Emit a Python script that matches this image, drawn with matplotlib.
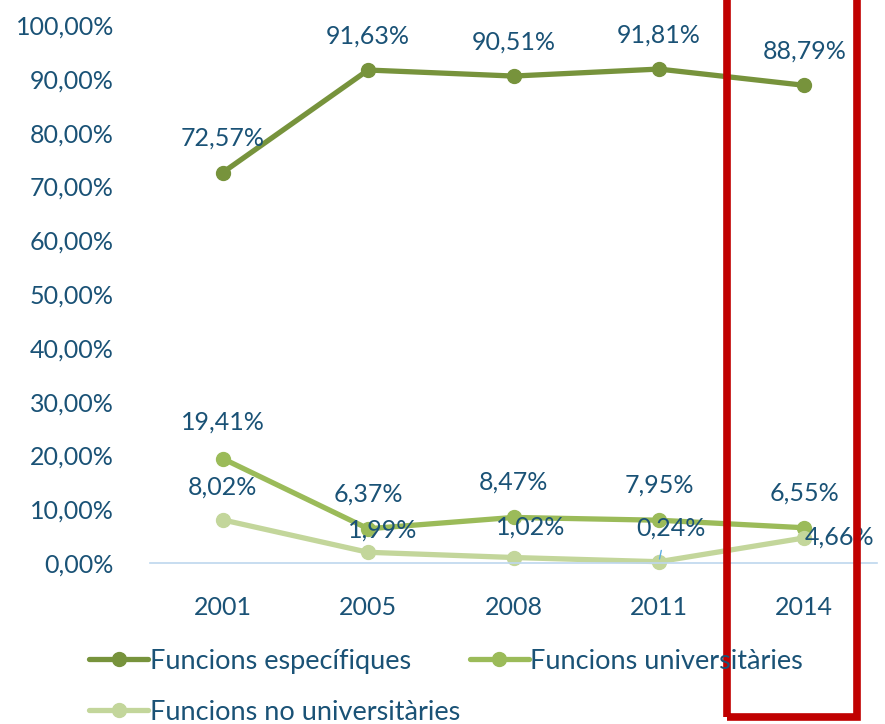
import matplotlib
matplotlib.use("Agg")
import matplotlib.pyplot as plt
from matplotlib.patches import Rectangle
from matplotlib.ticker import FuncFormatter

years = ["2001", "2005", "2008", "2011", "2014"]
especifiques = [72.57, 91.63, 90.51, 91.81, 88.79]
universitaries = [19.41, 6.37, 8.47, 7.95, 6.55]
no_universitaries = [8.02, 1.99, 1.02, 0.24, 4.66]
series_names = ["Funcions específiques", "Funcions universitàries", "Funcions no universitàries"]

TXT = "#1A5276"
COLORS = ["#77933C", "#9BBB59", "#C3D69B"]
FONT = "Lato"
FS = 18

def fmt(v):
    return f"{v:.2f}".replace(".", ",") + "%"

fig = plt.figure(figsize=(8.85, 7.24), dpi=100)
ax = fig.add_axes([150/885, (724-563)/724, (877-150)/885, (563-25)/724])

x = list(range(len(years)))
series = [especifiques, universitaries, no_universitaries]
for vals, c, name in zip(series, COLORS, series_names):
    ax.plot(x, vals, color=c, lw=3.8, marker="o", ms=10, label=name,
            solid_capstyle="round", clip_on=False)

# label offsets in pixels (dx, dy up)
offsets = [
    [(0, 34)] * 5,
    [(0, 36), (0, 35), (0, 35), (0, 35), (0, 35)],
    [(0, 33), (15, 22), (17, 30), (12, 34), (35, 1)],
]
k = 0.72
for vals, offs in zip(series, offsets):
    for xi, v, (dx, dy) in zip(x, vals, offs):
        ax.annotate(fmt(v), (xi, v), xytext=(dx*k, dy*k), textcoords="offset points",
                    ha="center", va="center", color=TXT, fontsize=FS, family=FONT)

# small leader line for 0,24%
ax.annotate("", (3, no_universitaries[3]), xytext=(3*k, 14*k), textcoords="offset points",
            arrowprops=dict(arrowstyle="-", color="#5DADE2", lw=1))

ax.set_xlim(-0.5, 4.5)
ax.set_ylim(0, 100)
ax.set_yticks(range(0, 101, 10))
ax.yaxis.set_major_formatter(FuncFormatter(lambda v, p: fmt(v)))
ax.set_xticks(x)
ax.set_xticklabels(years)
ax.tick_params(length=0, colors=TXT, labelsize=FS)
ax.tick_params(axis="y", pad=26)
ax.tick_params(axis="x", pad=24)
for lab in ax.get_xticklabels() + ax.get_yticklabels():
    lab.set_family(FONT)
for s in ["left", "right", "top"]:
    ax.spines[s].set_visible(False)
ax.spines["bottom"].set_color("#BDD7EE")
ax.spines["bottom"].set_linewidth(1.2)

handles, labels = ax.get_legend_handles_labels()
order = [0, 2, 1]
leg = fig.legend([handles[i] for i in order], [labels[i] for i in order], ncol=2,
                 loc="upper left", bbox_to_anchor=(78/885, 1 - 638/724), frameon=False,
                 prop={"family": FONT, "size": 19.5}, labelcolor=TXT,
                 handlelength=2.2, handletextpad=0.05, columnspacing=0.35,
                 labelspacing=0.95, borderaxespad=0)

fig.patches.append(Rectangle((727/885, 1 - 717/724), (857-727)/885, 1.2,
                             transform=fig.transFigure, fill=False,
                             edgecolor="#C00000", lw=5.5, clip_on=False))

fig.savefig("out.png", dpi=100)
